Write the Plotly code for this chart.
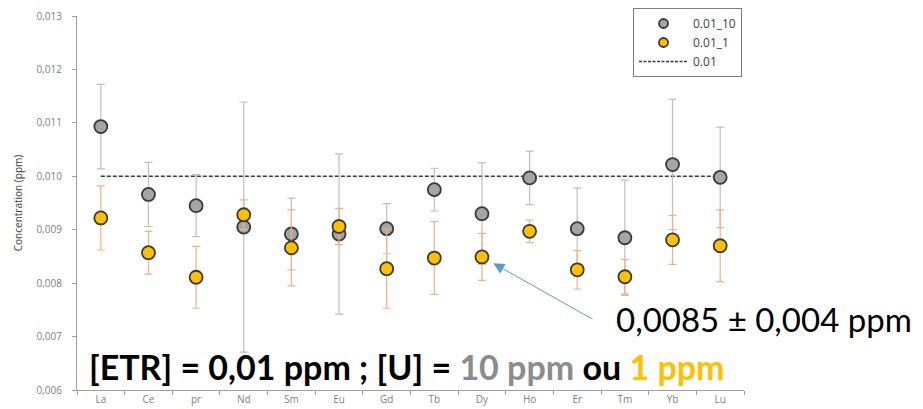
import plotly.graph_objects as go

elements = ["La", "Ce", "pr", "Nd", "Sm", "Eu", "Gd", "Tb", "Dy", "Ho", "Er", "Tm", "Yb", "Lu"]

u10_mean = [0.01093, 0.00966, 0.00945, 0.00905, 0.00892, 0.00892, 0.00902, 0.00975, 0.00930, 0.00997, 0.00902, 0.00885, 0.01022, 0.00998]
u10_err = [0.00079, 0.00060, 0.00058, 0.00234, 0.00067, 0.00150, 0.00047, 0.00040, 0.00095, 0.00050, 0.00076, 0.00108, 0.00122, 0.00094]

u1_mean = [0.00922, 0.00857, 0.00811, 0.00928, 0.00866, 0.00906, 0.00827, 0.00847, 0.00849, 0.00897, 0.00825, 0.00812, 0.00881, 0.00870]
u1_err = [0.00060, 0.00040, 0.00058, 0.00028, 0.00071, 0.00034, 0.00074, 0.00068, 0.00044, 0.00021, 0.00036, 0.00032, 0.00046, 0.00067]

target = [0.01] * len(elements)

names = ["0.01_10", "0.01_1", "0.01"]

GRAY = "#A5A5A5"
YELLOW = "#FFC000"
EDGE = "#3a3a3a"
DASH = "4px,2px"

fig = go.Figure()

fig.add_trace(go.Scatter(
    x=elements, y=target, mode="lines", name=names[2], showlegend=False,
    line=dict(color=EDGE, width=1.5, dash=DASH),
))

fig.add_trace(go.Scatter(
    x=elements, y=u10_mean, mode="markers", name=names[0], showlegend=False,
    marker=dict(size=13, color=GRAY, line=dict(color=EDGE, width=1.8)),
    error_y=dict(type="data", array=u10_err, color="#BFBFBF", thickness=1.2, width=4),
))

fig.add_trace(go.Scatter(
    x=elements, y=u1_mean, mode="markers", name=names[1], showlegend=False,
    marker=dict(size=13, color=YELLOW, line=dict(color=EDGE, width=1.8)),
    error_y=dict(type="data", array=u1_err, color="#F4B183", thickness=1.2, width=4),
))

# legend-only entries (smaller symbols, as in the reference legend)
fig.add_trace(go.Scatter(x=[None], y=[None], mode="markers", name=names[0],
                         marker=dict(size=9, color=GRAY, line=dict(color=EDGE, width=1.8))))
fig.add_trace(go.Scatter(x=[None], y=[None], mode="markers", name=names[1],
                         marker=dict(size=9, color=YELLOW, line=dict(color=EDGE, width=1.8))))
fig.add_trace(go.Scatter(x=[None], y=[None], mode="lines", name=names[2],
                         line=dict(color=EDGE, width=1.5, dash="3px,1.5px")))

# Arrow pointing to Dy (0.01_1)
dy_i = elements.index("Dy")
fig.add_annotation(
    x=elements[dy_i], y=u1_mean[dy_i], xref="x", yref="y",
    ax=112, ay=63, axref="pixel", ayref="pixel",
    text="", showarrow=True, arrowhead=2, arrowsize=2.2, arrowwidth=1,
    arrowcolor="#5B9BD5", standoff=13,
)

fig.add_annotation(
    x=0.805, y=0.19, xref="paper", yref="paper", xanchor="left", yanchor="middle",
    text="0,0085 ± 0,004 ppm", showarrow=False,
    font=dict(family="Lato", size=33, color="#000000"),
)

fig.add_annotation(
    x=0.015, y=0.062, xref="paper", yref="paper", xanchor="left", yanchor="middle",
    text="<b>[ETR] = 0,01 ppm ; [U] = <span style='color:#8C8C8C'>10 ppm</span> ou <span style='color:#FFC000'>1 ppm</span></b>",
    showarrow=False,
    font=dict(family="Lato", size=34, color="#000000"),
)

fig.update_layout(
    width=923, height=409,
    margin=dict(l=77, r=179, t=16, b=19, autoexpand=False),
    paper_bgcolor="white", plot_bgcolor="white",
    separators=",.",
    showlegend=True,
    legend=dict(
        xref="container", yref="container",
        x=633 / 923, y=1 - 8 / 409, xanchor="left", yanchor="top",
        bordercolor="#7f7f7f", borderwidth=1, bgcolor="white",
        font=dict(family="Open Sans", size=12, color="#404040"),
        traceorder="normal", itemwidth=49,
    ),
    xaxis=dict(
        type="category", range=[-0.5, 13.5], automargin=False,
        showline=True, linecolor="#A0A0A0", linewidth=1,
        ticks="outside", ticklen=4, tickcolor="#A0A0A0", tickson="boundaries",
        tickfont=dict(family="Open Sans", size=10, color="#7f7f7f"),
        showgrid=False, zeroline=False,
    ),
    yaxis=dict(
        range=[0.006, 0.013], dtick=0.001, tickformat=".3f", automargin=False,
        showline=True, linecolor="#A0A0A0", linewidth=1,
        ticks="outside", ticklen=4, tickcolor="#A0A0A0", ticklabelstandoff=8,
        tickfont=dict(family="Open Sans", size=10, color="#7f7f7f"),
        title=dict(text="Concentration (ppm)", font=dict(family="Open Sans", size=10, color="#404040"), standoff=12),
        showgrid=False, zeroline=False,
    ),
)

fig.write_html("out.html")
